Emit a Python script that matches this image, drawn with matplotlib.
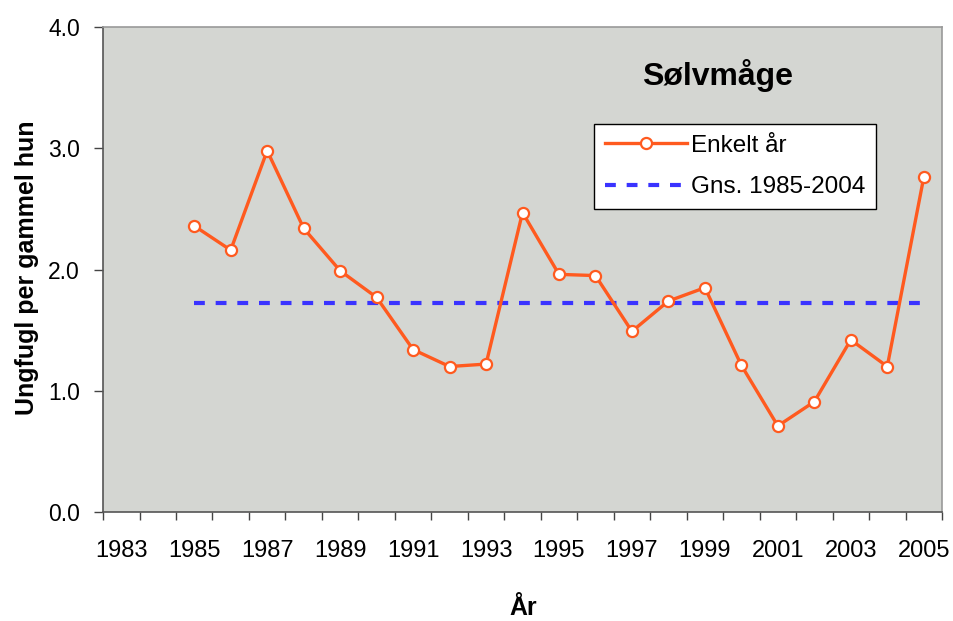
import matplotlib
matplotlib.use("Agg")
import matplotlib.pyplot as plt
from matplotlib.ticker import FormatStrFormatter

plt.rcParams['font.family'] = ['Liberation Sans', 'DejaVu Sans']

# data
years = [1985, 1986, 1987, 1988, 1989, 1990, 1991, 1992, 1993, 1994, 1995,
         1996, 1997, 1998, 1999, 2000, 2001, 2002, 2003, 2004, 2005]
values = [2.36, 2.16, 2.98, 2.34, 1.99, 1.77, 1.34, 1.20, 1.22, 2.47, 1.96,
          1.95, 1.49, 1.74, 1.85, 1.21, 0.71, 0.91, 1.42, 1.20, 2.76]
avg_value = 1.72
avg_years = [1985, 2005]
first_year, last_year = 1983, 2005
label_years = list(range(1983, 2006, 2))

line_col = "#FF5A1F"
avg_col = "#3A33FF"

fig = plt.figure(figsize=(9.54, 6.21), dpi=100)
ax = fig.add_axes([0.108, 0.1755, 0.8794, 0.781])
ax.set_facecolor("#D4D6D2")

ax.plot(years, values, color=line_col, lw=2.4, marker="o", ms=8,
        mfc="white", mec=line_col, mew=1.6, label="Enkelt år", zorder=3)
ax.plot(avg_years, [avg_value, avg_value], color=avg_col, lw=3,
        dashes=(2.6, 2.6), label="Gns. 1985-2004", zorder=2)

ax.set_xlim(first_year - 0.5, last_year + 0.5)
ax.set_ylim(0, 4.0)

# category boundary ticks, labels at category centres
ax.set_xticks([y + 0.5 for y in range(first_year - 1, last_year + 1)])
ax.set_xticklabels([])
ax.tick_params(axis="x", which="major", direction="out", length=6, width=1, color="#444")
ax.set_xticks(label_years, minor=True)
ax.set_xticklabels([str(y) for y in label_years], minor=True, fontsize=17)
ax.tick_params(axis="x", which="minor", length=0, pad=20)

ax.set_yticks([0, 1, 2, 3, 4])
ax.yaxis.set_major_formatter(FormatStrFormatter("%.1f"))
ax.tick_params(axis="y", direction="out", length=6.5, width=1, color="#444",
               labelsize=16.5, pad=10)

for side in ["left", "bottom"]:
    ax.spines[side].set_color("#555555")
    ax.spines[side].set_linewidth(1.2)
for side in ["top", "right"]:
    ax.spines[side].set_color("#999999")
    ax.spines[side].set_linewidth(1.2)

ax.set_ylabel("Ungfugl per gammel hun", fontsize=18, fontweight="bold")
ax.yaxis.set_label_coords(-0.0763, 0.503)
fig.text(0.548, 0.002, "År", fontsize=18, fontweight="bold", ha="center", va="bottom")

ax.text(0.733, 0.9, "Sølvmåge", transform=ax.transAxes, fontsize=23,
        fontweight="bold", ha="center", va="center")

leg = ax.legend(loc="upper left", bbox_to_anchor=(0.585, 0.8), borderaxespad=0,
                fontsize=17.5, frameon=True, fancybox=False, edgecolor="black",
                framealpha=1, handlelength=3.4, handletextpad=0.15,
                borderpad=0.45, labelspacing=0.8)
leg.get_frame().set_linewidth(1.0)

fig.savefig("out.png", dpi=100)
